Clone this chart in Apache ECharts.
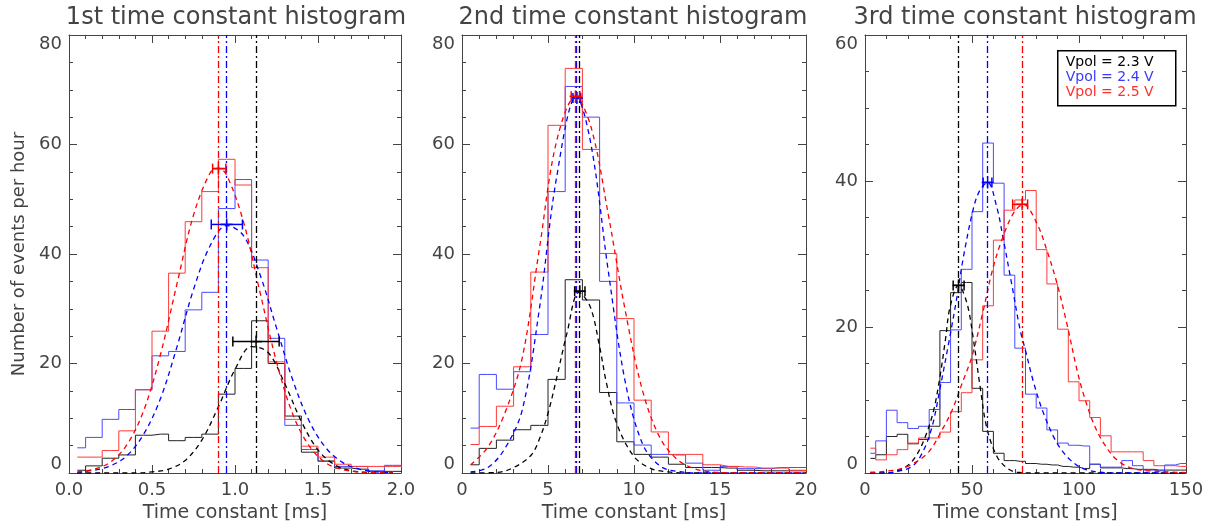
<!DOCTYPE html>
<html>
<head>
<meta charset="utf-8">
<script src="https://cdn.jsdelivr.net/npm/echarts@6/dist/echarts.min.js"></script>
<style>
  html, body { margin: 0; padding: 0; background: #fff; }
  #chart { width: 1212px; height: 530px; }
</style>
</head>
<body>
<div id="chart"></div>
<script>
// ---- histogram bin centres ----
var bins1 = [0.05, 0.15, 0.25, 0.35, 0.45, 0.55, 0.65, 0.75, 0.85, 0.95, 1.05, 1.15, 1.25, 1.35, 1.45, 1.55, 1.65, 1.75, 1.85, 1.95, 2.05];
var bins2 = [0.5, 1.5, 2.5, 3.5, 4.5, 5.5, 6.5, 7.5, 8.5, 9.5, 10.5, 11.5, 12.5, 13.5, 14.5, 15.5, 16.5, 17.5, 18.5, 19.5, 20.5];
var bins3 = [2.5, 7.5, 12.5, 17.5, 22.5, 27.5, 32.5, 37.5, 42.5, 47.5, 52.5, 57.5, 62.5, 67.5, 72.5, 77.5, 82.5, 87.5, 92.5, 97.5,
  102.5, 107.5, 112.5, 117.5, 122.5, 127.5, 132.5, 137.5, 142.5, 147.5, 152.5];

// ---- histograms (events per hour) ----
var hist1Black = [0.5, 1.3, 2.7, 3.3, 6.9, 7.1, 5.9, 6.5, 7.1, 14.4, 19.1, 27.8, 20.0, 10.4, 3.8, 2.2, 0.9, 0.7, 0.3, 0.3, 0.3];
var hist1Blue = [4.6, 6.5, 9.8, 11.6, 15.2, 21.4, 22.2, 29.8, 33.0, 48.3, 53.6, 38.9, 24.6, 8.7, 4.3, 2.1, 1.2, 1.2, 0.4, 1.4, 1.4];
var hist1Red = [2.9, 2.9, 4.1, 7.7, 15.2, 25.9, 36.5, 45.9, 51.4, 57.3, 52.6, 37.5, 20.3, 9.8, 4.9, 2.9, 1.6, 1.2, 1.2, 1.2, 1.2];

var hist2Black = [1.5, 4.5, 6.0, 7.9, 8.7, 17.1, 35.3, 31.6, 14.7, 5.7, 3.4, 2.9, 1.6, 1.0, 1.0, 0.9, 0.5, 0.4, 0.4, 0.4, 0.4];
var hist2Blue = [8.2, 18.0, 15.3, 18.5, 25.3, 51.4, 70.6, 65.0, 35.0, 12.8, 5.1, 3.4, 3.3, 1.8, 0.5, 1.2, 0.8, 0.8, 1.0, 1.0, 1.0];
var hist2Red = [5.2, 8.5, 12.2, 19.4, 36.7, 63.5, 73.9, 59.1, 40.1, 28.2, 13.3, 7.5, 3.4, 3.4, 1.5, 1.2, 1.1, 0.9, 0.9, 0.5, 0.5];

var hist3Black = [2.0, 2.5, 5.0, 5.3, 4.0, 4.6, 6.4, 19.5, 24.7, 26.1, 11.6, 5.7, 2.7, 1.7, 1.6, 1.3, 1.2, 1.1, 0.9, 0.8,
  0.6, 1.2, 0.7, 0.7, 0.6, 0.5, 0.5, 0.4, 0.4, 0.4, 0.4];
var hist3Blue = [2.7, 4.4, 8.6, 6.9, 6.1, 6.4, 8.7, 12.4, 19.6, 27.9, 35.8, 45.2, 39.7, 27.1, 17.1, 10.8, 8.9, 5.9, 4.1, 3.8,
  3.7, 1.2, 0.8, 0.8, 1.7, 1.0, 0.4, 0.3, 1.1, 1.3, 1.3];
var hist3Red = [3.4, 1.8, 2.5, 3.2, 4.1, 4.8, 4.8, 5.6, 8.4, 11.0, 15.5, 22.9, 31.9, 36.0, 37.4, 38.7, 30.6, 25.9, 19.7, 12.5,
  9.9, 7.6, 5.1, 2.9, 2.9, 2.9, 1.7, 1.0, 1.0, 0.9, 0.9];

// ---- gaussian fits [x, y] ----
var fit1Black = [[0.05, 0], [0.4, 0], [0.5, 0.2], [0.6, 0.7], [0.7, 2.3], [0.8, 6.0], [0.9, 12.1], [1.0, 18.9], [1.1, 23.1], [1.2, 22.0],
  [1.3, 16.3], [1.4, 9.4], [1.5, 4.2], [1.6, 1.5], [1.7, 0.4], [1.8, 0.1], [1.95, 0]];
var fit1Blue = [[0.05, 0.1], [0.15, 0.5], [0.25, 1.3], [0.35, 3.2], [0.45, 7.1], [0.55, 13.5], [0.65, 23.0], [0.75, 33.5], [0.85, 41.5],
  [0.95, 45.2], [1.05, 43.4], [1.15, 36.3], [1.25, 26.5], [1.35, 16.8], [1.45, 9.3], [1.55, 4.5], [1.65, 1.9], [1.75, 0.7], [1.85, 0.2], [1.95, 0.1]];
var fit1Red = [[0.05, 0.2], [0.15, 0.7], [0.25, 2.0], [0.35, 5.2], [0.45, 11.4], [0.55, 21.5], [0.65, 34.5], [0.75, 47.1], [0.85, 54.8],
  [0.9, 55.7], [0.95, 54.4], [1.05, 46.0], [1.15, 33.1], [1.25, 20.3], [1.35, 10.6], [1.45, 4.8], [1.55, 1.8], [1.65, 0.6], [1.75, 0.2], [1.95, 0]];

var fit2Black = [[0.5, 0], [2, 0.1], [3, 1.0], [4, 3.2], [4.5, 6.2], [5, 10.9], [5.5, 17.3], [6.1, 25.5], [6.8, 33.0], [7.45, 30.4],
  [8, 23.1], [8.4, 16.4], [9, 9.0], [10, 3.0], [11, 0.8], [12, 0.2], [13, 0], [20, 0]];
var fit2Blue = [[0.5, 0.2], [1.5, 1.0], [2.5, 4.5], [3.5, 11.5], [4.5, 30], [5.5, 54], [6.65, 68.8], [7.5, 60], [8.5, 37], [9.5, 16.5],
  [10.5, 5.3], [11.5, 1.3], [12.5, 0.3], [14, 0], [20, 0]];
var fit2Red = [[0.5, 1.5], [1.5, 4.7], [2.5, 11], [3.5, 21], [4.5, 41], [5.5, 60.6], [6.6, 68.7], [7.5, 63.2], [8.5, 47.3], [9.5, 29.5],
  [10.5, 15], [11.5, 6.5], [12.5, 2.5], [13.5, 0.8], [14.5, 0.2], [16, 0], [20, 0]];

var fit3Black = [[2.5, 0], [10, 0], [14.2, 0.2], [19.8, 1.0], [24, 2.4], [28.2, 5.0], [32.1, 8.6], [35.2, 13.5], [37.6, 18.3], [39.8, 22.8],
  [43.7, 25.7], [47.6, 23.3], [50.5, 18.6], [53.8, 11.8], [56.9, 6.2], [61.6, 2.3], [66.3, 0.7], [71, 0.1], [80, 0], [150, 0]];
var fit3Blue = [[2.5, 0], [10, 0], [15, 0.2], [22, 0.9], [26.7, 2.7], [31.3, 6.3], [35.2, 11.8], [39.1, 17.8], [42.9, 24.0], [46, 29.6],
  [50.7, 36.3], [53.8, 38.8], [57.3, 39.8], [61.6, 36.4], [64.7, 31.9], [68.6, 25.8], [72.5, 19.6], [74.8, 17.0], [78.7, 12.5], [83.4, 8.2],
  [89.7, 4.1], [95.9, 1.8], [102, 0.6], [110, 0.1], [120, 0], [150, 0]];
var fit3Red = [[2.5, 0.1], [14, 0.4], [22, 1.2], [29.8, 2.9], [36, 5.9], [40.7, 8.6], [45.4, 12.3], [50, 16.0], [55.3, 22.3], [59.3, 27.5],
  [63.9, 31.9], [69.4, 35.6], [74, 36.8], [80.3, 34.2], [85, 30.5], [89.7, 26.0], [94.3, 20.5], [99, 14.2], [102.1, 10.8], [106.8, 6.8],
  [111.5, 4.1], [117.7, 1.8], [125.4, 0.6], [138, 0.2], [150, 0.05]];

// ---- fitted peak positions (vertical dash-dot lines) ----
var peak1 = { black: 1.127, blue: 0.95, red: 0.897 };
var peak2 = { black: 6.8, blue: 6.65, red: 6.58 };
var peak3 = { black: 43.7, blue: 57.1, red: 73.4 };

// ---- peak markers with horizontal error bars [xlow, y, xhigh, xcentre] ----
var err1 = { black: [0.987, 24.0, 1.266, 1.127], blue: [0.857, 45.4, 1.045, 0.95], red: [0.865, 55.6, 0.945, 0.9] };
var err2 = { black: [6.55, 33.2, 7.15, 6.85], blue: [6.45, 68.5, 6.9, 6.68], red: [6.35, 68.8, 6.85, 6.6] };
var err3 = { black: [41.2, 25.7, 46.3, 43.7], blue: [55.2, 39.8, 59.3, 57.3], red: [69.0, 36.8, 76.0, 73.4] };

var titles = ['1st time constant histogram', '2nd time constant histogram', '3rd time constant histogram'];
var legendLabels = ['Vpol = 2.3 V', 'Vpol = 2.4 V', 'Vpol = 2.5 V'];

var FONT = 'DejaVu Sans';
var AX = '#444';
var COL = { black: '#000000', blue: '#0000ff', red: '#ff0000' };
var HCOL = { black: '#222222', blue: '#4a4aff', red: '#ff3a3a' };

var grids = [
  { left: 69, top: 35, width: 332, height: 438, outerBoundsMode: 'none' },
  { left: 462, top: 35, width: 344, height: 438, outerBoundsMode: 'none' },
  { left: 865, top: 35, width: 321, height: 438, outerBoundsMode: 'none' }
];

function makeX(gi, max, interval, dec) {
  var base = {
    gridIndex: gi, type: 'value', min: 0, max: max, interval: interval,
    axisLine: { show: true, onZero: false, lineStyle: { color: AX, width: 1 } },
    axisTick: { show: true, inside: true, length: 8, lineStyle: { color: AX } },
    minorTick: { show: true, splitNumber: 5, length: 4, lineStyle: { color: AX } },
    splitLine: { show: false }, minorSplitLine: { show: false }
  };
  var bottom = Object.assign({}, base, {
    position: 'bottom',
    axisLabel: {
      show: true, margin: 8, color: '#444', fontFamily: FONT, fontSize: 18, showMinLabel: true, showMaxLabel: true,
      formatter: function (v) { return v.toFixed(dec); }
    },
    name: 'Time constant [ms]', nameLocation: 'middle', nameGap: 28,
    nameTextStyle: { color: '#444', fontFamily: FONT, fontSize: 19 }
  });
  var top = Object.assign({}, base, { position: 'top', axisLabel: { show: false } });
  return [bottom, top];
}

function makeY(gi, max, withName) {
  var base = {
    gridIndex: gi, type: 'value', min: 0, max: max, interval: 20,
    axisLine: { show: true, onZero: false, lineStyle: { color: AX, width: 1 } },
    axisTick: { show: true, inside: true, length: 8, lineStyle: { color: AX } },
    minorTick: { show: true, splitNumber: 4, length: 4, lineStyle: { color: AX } },
    splitLine: { show: false }, minorSplitLine: { show: false }
  };
  var left = Object.assign({}, base, {
    position: 'left',
    axisLabel: {
      show: true, margin: 7, color: '#444', fontFamily: FONT, fontSize: 18, showMinLabel: true, showMaxLabel: true,
      verticalAlignMaxLabel: 'top', verticalAlignMinLabel: 'bottom'
    }
  });
  if (withName) {
    left.name = 'Number of events per hour';
    left.nameLocation = 'middle';
    left.nameGap = 41;
    left.nameTextStyle = { color: '#444', fontFamily: FONT, fontSize: 18 };
  }
  var right = Object.assign({}, base, { position: 'right', axisLabel: { show: false } });
  return [left, right];
}

function histSeries(gi, bins, vals, key) {
  return {
    type: 'line', xAxisIndex: gi * 2, yAxisIndex: gi * 2, step: 'middle', symbol: 'none',
    data: bins.map(function (b, i) { return [b, vals[i]]; }),
    lineStyle: { color: HCOL[key], width: 1 }, itemStyle: { color: HCOL[key] },
    silent: true, z: 2
  };
}

function fitSeries(gi, pts, key, peak) {
  return {
    type: 'line', xAxisIndex: gi * 2, yAxisIndex: gi * 2, smooth: 0.35, symbol: 'none',
    data: pts,
    lineStyle: { color: COL[key], width: 1.3, type: [5, 4] }, itemStyle: { color: COL[key] },
    silent: true, z: 3,
    markLine: {
      silent: true, symbol: 'none', label: { show: false },
      lineStyle: { color: COL[key], width: 1.3, type: [7, 3, 2, 3] },
      data: [{ xAxis: peak }]
    }
  };
}

function errRender(params, api) {
  var y = api.value(1);
  var p0 = api.coord([api.value(0), y]);
  var p1 = api.coord([api.value(2), y]);
  var pc = api.coord([api.value(3), y]);
  var c = api.visual('color');
  var h = 5, st = { stroke: c, lineWidth: 1.5 };
  return {
    type: 'group', children: [
      { type: 'line', shape: { x1: p0[0], y1: p0[1], x2: p1[0], y2: p1[1] }, style: st },
      { type: 'line', shape: { x1: p0[0], y1: p0[1] - h, x2: p0[0], y2: p0[1] + h }, style: st },
      { type: 'line', shape: { x1: p1[0], y1: p1[1] - h, x2: p1[0], y2: p1[1] + h }, style: st },
      { type: 'line', shape: { x1: pc[0] - 6, y1: pc[1], x2: pc[0] + 6, y2: pc[1] }, style: st },
      { type: 'line', shape: { x1: pc[0], y1: pc[1] - 6, x2: pc[0], y2: pc[1] + 6 }, style: st }
    ]
  };
}

function errSeries(gi, e, key) {
  return {
    type: 'custom', xAxisIndex: gi * 2, yAxisIndex: gi * 2, renderItem: errRender,
    encode: { x: [0, 2, 3], y: 1 }, itemStyle: { color: COL[key] }, silent: true, z: 5,
    data: [e[key]]
  };
}

var order = ['black', 'blue', 'red'];
var panels = [
  { hist: { black: hist1Black, blue: hist1Blue, red: hist1Red }, bins: bins1,
    fit: { black: fit1Black, blue: fit1Blue, red: fit1Red }, peak: peak1, err: err1 },
  { hist: { black: hist2Black, blue: hist2Blue, red: hist2Red }, bins: bins2,
    fit: { black: fit2Black, blue: fit2Blue, red: fit2Red }, peak: peak2, err: err2 },
  { hist: { black: hist3Black, blue: hist3Blue, red: hist3Red }, bins: bins3,
    fit: { black: fit3Black, blue: fit3Blue, red: fit3Red }, peak: peak3, err: err3 }
];

var series = [];
panels.forEach(function (p, gi) {
  order.forEach(function (k) { series.push(histSeries(gi, p.bins, p.hist[k], k)); });
  order.forEach(function (k) { series.push(fitSeries(gi, p.fit[k], k, p.peak[k])); });
  order.forEach(function (k) { series.push(errSeries(gi, p.err, k)); });
});

var xAxis = [].concat(makeX(0, 2, 0.5, 1), makeX(1, 20, 5, 0), makeX(2, 150, 50, 0));
var yAxis = [].concat(makeY(0, 80, true), makeY(1, 80, false), makeY(2, 60, false));

var titleCentres = [236, 633, 1025];
var graphic = titles.map(function (t, i) {
  return {
    type: 'text', x: titleCentres[i], y: 18,
    style: { text: t, fill: '#444', font: '24px "' + FONT + '"', align: 'center', verticalAlign: 'middle' }
  };
});
var legendColors = [COL.black, '#3a3aff', '#ff3030'];
graphic.push({
  type: 'group', left: 1057, top: 50, children: [
    { type: 'rect', shape: { x: 0, y: 0, width: 118, height: 55 }, style: { fill: '#fff', stroke: '#000', lineWidth: 1.5 } }
  ].concat(legendLabels.map(function (t, i) {
    return {
      type: 'text', x: 8, y: 12 + i * 15,
      style: { text: t, fill: legendColors[i], font: '14px "' + FONT + '"', align: 'left', verticalAlign: 'middle' }
    };
  }))
});

var chart = echarts.init(document.getElementById('chart'), null, { renderer: 'canvas' });
chart.setOption({
  animation: false,
  backgroundColor: '#fff',
  grid: grids,
  xAxis: xAxis,
  yAxis: yAxis,
  series: series,
  graphic: graphic
});
</script>
</body>
</html>
